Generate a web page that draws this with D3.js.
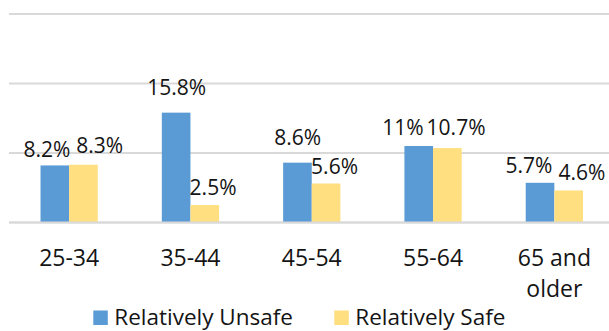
<!DOCTYPE html>
<html>
<head>
<meta charset="utf-8">
<script src="https://cdn.jsdelivr.net/npm/d3@7/dist/d3.min.js"></script>
<style>
  html, body { margin: 0; padding: 0; background: #fff; }
  svg { display: block; }
  text { font-family: "Open Sans", "Noto Sans", sans-serif; fill: #141414; }
</style>
</head>
<body>
<svg id="chart" width="609" height="331"></svg>
<script>
// ---- data ----
const categories = ["25-34", "35-44", "45-54", "55-64", "65 and older"];
const seriesNames = ["Relatively Unsafe", "Relatively Safe"];
const unsafeValues = [8.2, 15.8, 8.6, 11, 5.7];
const safeValues = [8.3, 2.5, 5.6, 10.7, 4.6];
const unsafeLabels = ["8.2%", "15.8%", "8.6%", "11%", "5.7%"];
const safeLabels = ["8.3%", "2.5%", "5.6%", "10.7%", "4.6%"];
const gridTicks = [0, 10, 20, 30];

// ---- layout / style (not data) ----
const colors = ["#5B9BD5", "#FFDF80"];
// manual label nudges as in the original chart: [dx, gap above bar top]
const labelNudge = [
  [[-8, 8.8], [0.6, 17.6], [0.2, 17.7], [-15.7, 11.1], [-11, 10.1]],
  [[16.3, 11.8], [8.3, 10.3], [8.5, 9.5], [8.7, 13.2], [13.3, 10.4]]
];

const svg = d3.select("#chart");
const x = d3.scaleBand().domain(categories).range([8.5, 615]).padding(0);
const y = d3.scaleLinear().domain([0, 30]).range([222.4, 14]);
const barW = x.bandwidth() * 0.236;
const xs = d3.scaleBand().domain(seriesNames).range([-barW, barW]);

// gridlines
svg.append("g").selectAll("line").data(gridTicks).join("line")
  .attr("x1", 9).attr("x2", 609)
  .attr("y1", d => y(d)).attr("y2", d => y(d))
  .attr("stroke", "#d9d9d9").attr("stroke-width", 2);

const series = [
  { name: seriesNames[0], values: unsafeValues, labels: unsafeLabels },
  { name: seriesNames[1], values: safeValues, labels: safeLabels }
];

series.forEach((s, si) => {
  const g = svg.append("g");
  g.selectAll("rect").data(s.values).join("rect")
    .attr("x", (d, i) => x(categories[i]) + x.bandwidth() / 2 + xs(s.name))
    .attr("width", xs.bandwidth())
    .attr("y", d => y(d))
    .attr("height", d => y(0) - y(d))
    .attr("fill", colors[si]);
});

// redraw baseline over bars
svg.append("line")
  .attr("x1", 9).attr("x2", 609).attr("y1", y(0)).attr("y2", y(0))
  .attr("stroke", "#d9d9d9").attr("stroke-width", 2);

series.forEach((s, si) => {
  svg.append("g").selectAll("text").data(s.values).join("text")
    .attr("x", (d, i) => x(categories[i]) + x.bandwidth() / 2 + xs(s.name) + xs.bandwidth() / 2 + labelNudge[si][i][0])
    .attr("y", (d, i) => y(d) - labelNudge[si][i][1])
    .attr("text-anchor", "middle")
    .attr("font-size", "21px")
    .text((d, i) => s.labels[i]);
});

// x axis labels
const axis = d3.axisBottom(x).tickSize(0).tickPadding(0);
const ax = svg.append("g").attr("transform", `translate(0, ${y(0)})`).call(axis);
ax.select(".domain").remove();
ax.selectAll(".tick text").each(function(d) {
  const t = d3.select(this);
  t.text(null).attr("y", 0).attr("dy", null)
    .attr("font-size", "23px").attr("font-family", null).attr("fill", "#141414");
  const words = d.split(" ");
  const lines = words.length > 2 ? [words.slice(0, 2).join(" "), words.slice(2).join(" ")] : [d];
  lines.forEach((ln, li) => {
    t.append("tspan").attr("x", 0).attr("y", 43.6 + li * 30.7).text(ln);
  });
});
ax.attr("font-family", null).attr("font-size", null);

// legend
const legendX = [93.3, 334.3];
const lg = svg.append("g");
seriesNames.forEach((n, i) => {
  lg.append("rect").attr("x", legendX[i]).attr("y", 310.5).attr("width", 14.5).attr("height", 14.5).attr("fill", colors[i]);
  lg.append("text").attr("x", legendX[i] + 21).attr("y", 324.8).attr("font-size", "22.5px").text(n);
});
</script>
</body>
</html>
